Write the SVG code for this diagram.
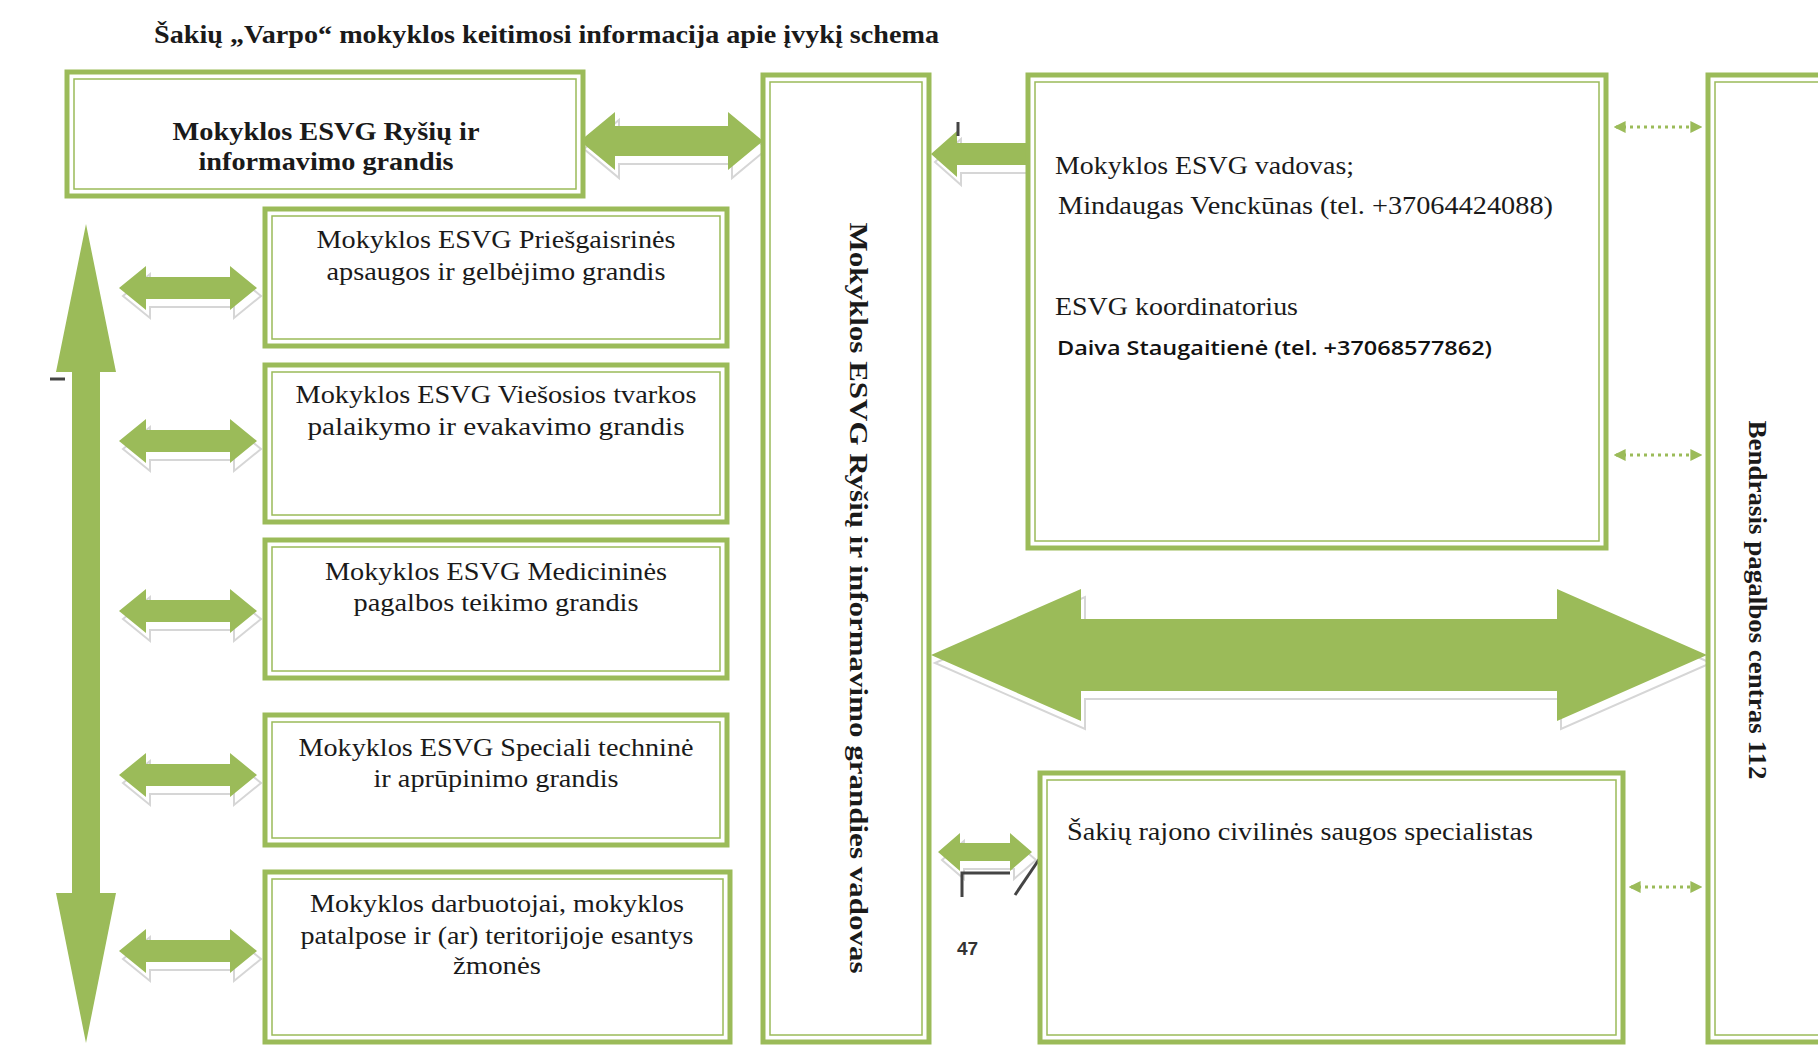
<svg xmlns="http://www.w3.org/2000/svg" width="1818" height="1048" viewBox="0 0 1818 1048">
<style>
.bo{fill:#fff;stroke:#9bbb59;stroke-width:5}
.bi{fill:none;stroke:#9bbb59;stroke-width:1.5}
.ar{fill:#9bbb59}
.sh{fill:none;stroke:#d6d6d6;stroke-width:2}
.t{font-family:"Liberation Serif","Times New Roman",serif;font-size:25px;fill:#1a1a1a}
.b{font-weight:bold}
.dot{stroke:#9bbb59;stroke-width:3;stroke-dasharray:3 4;fill:none}
.mk{stroke:#444;stroke-width:3;fill:none}
</style>
<defs>
<polygon id="sa" points="0,0 27,-22 27,-11 111,-11 111,-22 138,0 111,22 111,11 27,11 27,22"/>
<marker id="dh" viewBox="0 0 10 10" refX="8" refY="5" markerWidth="4" markerHeight="4" orient="auto-start-reverse"><path d="M0,0 L10,5 L0,10 z" fill="#9bbb59"/></marker>
</defs>
<rect width="1818" height="1048" fill="#fff"/>
<text class="t b" x="154" y="43" font-size="24" textLength="785" lengthAdjust="spacingAndGlyphs">Šakių „Varpo“ mokyklos keitimosi informacija apie įvykį schema</text>

<g id="connectors">
<g transform="translate(4,8)" class="sh">
<use href="#sa" x="119" y="288"/><use href="#sa" x="119" y="441"/><use href="#sa" x="119" y="611"/><use href="#sa" x="119" y="775"/><use href="#sa" x="119" y="951"/>
<polygon points="580,141 615,112 615,126 728,126 728,112 763,141 728,170 728,156 615,156 615,170"/>
<polygon points="931,154 957,131 957,143 1028,143 1028,165 957,165 957,177"/>
<polygon points="931,655 1081,589 1081,619 1557,619 1557,589 1707,655 1557,721 1557,691 1081,691 1081,721"/>
<polygon points="938,852 960,833 960,843 1010,843 1010,833 1032,852 1010,871 1010,861 960,861 960,871"/>
</g>
<g class="ar">
<polygon points="86,224 116,372 100,372 100,893 116,893 86,1043 56,893 72,893 72,372 56,372"/>
<use href="#sa" x="119" y="288"/><use href="#sa" x="119" y="441"/><use href="#sa" x="119" y="611"/><use href="#sa" x="119" y="775"/><use href="#sa" x="119" y="951"/>
<polygon points="580,141 615,112 615,126 728,126 728,112 763,141 728,170 728,156 615,156 615,170"/>
<polygon points="931,154 957,131 957,143 1028,143 1028,165 957,165 957,177"/>
<polygon points="931,655 1081,589 1081,619 1557,619 1557,589 1707,655 1557,721 1557,691 1081,691 1081,721"/>
<polygon points="938,852 960,833 960,843 1010,843 1010,833 1032,852 1010,871 1010,861 960,861 960,871"/>
</g>
<line class="dot" x1="1616" y1="127" x2="1700" y2="127" marker-start="url(#dh)" marker-end="url(#dh)"/>
<line class="dot" x1="1616" y1="455" x2="1700" y2="455" marker-start="url(#dh)" marker-end="url(#dh)"/>
<line class="dot" x1="1631" y1="887" x2="1700" y2="887" marker-start="url(#dh)" marker-end="url(#dh)"/>
<line class="mk" x1="50" y1="379" x2="65" y2="379"/>
<line class="mk" x1="958" y1="122" x2="958" y2="136" stroke-width="2"/>
<polyline class="mk" points="962,897 962,873 1010,873"/>
<line class="mk" x1="1015" y1="895" x2="1040" y2="858"/>
</g>

<g id="n-rysiu">
<rect class="bo" x="67" y="72" width="516" height="124"/>
<rect class="bi" x="74" y="79" width="502" height="110"/>
<text class="t b" x="326" y="140" text-anchor="middle" textLength="307" lengthAdjust="spacingAndGlyphs">Mokyklos ESVG Ryšių ir</text>
<text class="t b" x="326" y="170" text-anchor="middle" textLength="255" lengthAdjust="spacingAndGlyphs">informavimo grandis</text>
</g>

<g id="n-priesgaisrines">
<rect class="bo" x="265" y="209" width="462" height="137"/>
<rect class="bi" x="272" y="216" width="448" height="123"/>
<text class="t" x="496" y="248" text-anchor="middle" textLength="359" lengthAdjust="spacingAndGlyphs">Mokyklos ESVG Priešgaisrinės</text>
<text class="t" x="496" y="280" text-anchor="middle" textLength="339" lengthAdjust="spacingAndGlyphs">apsaugos ir gelbėjimo grandis</text>
</g>

<g id="n-viesosios">
<rect class="bo" x="265" y="365" width="462" height="157"/>
<rect class="bi" x="272" y="372" width="448" height="143"/>
<text class="t" x="496" y="403" text-anchor="middle" textLength="401" lengthAdjust="spacingAndGlyphs">Mokyklos ESVG Viešosios tvarkos</text>
<text class="t" x="496" y="435" text-anchor="middle" textLength="377" lengthAdjust="spacingAndGlyphs">palaikymo ir evakavimo grandis</text>
</g>

<g id="n-medicinines">
<rect class="bo" x="265" y="540" width="462" height="138"/>
<rect class="bi" x="272" y="547" width="448" height="124"/>
<text class="t" x="496" y="580" text-anchor="middle" textLength="342" lengthAdjust="spacingAndGlyphs">Mokyklos ESVG Medicininės</text>
<text class="t" x="496" y="611" text-anchor="middle" textLength="285" lengthAdjust="spacingAndGlyphs">pagalbos teikimo grandis</text>
</g>

<g id="n-speciali">
<rect class="bo" x="265" y="715" width="462" height="130"/>
<rect class="bi" x="272" y="722" width="448" height="116"/>
<text class="t" x="496" y="756" text-anchor="middle" textLength="395" lengthAdjust="spacingAndGlyphs">Mokyklos ESVG Speciali techninė</text>
<text class="t" x="496" y="787" text-anchor="middle" textLength="245" lengthAdjust="spacingAndGlyphs">ir aprūpinimo grandis</text>
</g>

<g id="n-darbuotojai">
<rect class="bo" x="265" y="872" width="465" height="170"/>
<rect class="bi" x="272" y="879" width="451" height="156"/>
<text class="t" x="497" y="912" text-anchor="middle" textLength="374" lengthAdjust="spacingAndGlyphs">Mokyklos darbuotojai, mokyklos</text>
<text class="t" x="497" y="944" text-anchor="middle" textLength="393" lengthAdjust="spacingAndGlyphs">patalpose ir (ar) teritorijoje esantys</text>
<text class="t" x="497" y="974" text-anchor="middle" textLength="88" lengthAdjust="spacingAndGlyphs">žmonės</text>
</g>

<g id="n-vadovas-grandies">
<rect class="bo" x="763" y="75" width="166" height="967"/>
<rect class="bi" x="770" y="82" width="152" height="953"/>
<text class="t b" transform="translate(850,598) rotate(90)" text-anchor="middle" font-size="27" textLength="751" lengthAdjust="spacingAndGlyphs">Mokyklos ESVG Ryšių ir informavimo grandies vadovas</text>
</g>

<g id="n-esvg-vadovas">
<rect class="bo" x="1028" y="75" width="578" height="473"/>
<rect class="bi" x="1035" y="82" width="564" height="459"/>
<text class="t" x="1055" y="174" textLength="299" lengthAdjust="spacingAndGlyphs">Mokyklos ESVG vadovas;</text>
<text class="t" x="1058" y="214" textLength="495" lengthAdjust="spacingAndGlyphs">Mindaugas Venckūnas (tel. +37064424088)</text>
<text class="t" x="1055" y="315" textLength="243" lengthAdjust="spacingAndGlyphs">ESVG koordinatorius</text>
<text x="1057" y="355" font-family="'Open Sans','Liberation Sans',sans-serif" font-weight="600" font-size="20" fill="#111" textLength="435" lengthAdjust="spacingAndGlyphs">Daiva Staugaitienė (tel. +37068577862)</text>
</g>

<g id="n-civiline">
<rect class="bo" x="1040" y="773" width="583" height="269"/>
<rect class="bi" x="1047" y="780" width="569" height="255"/>
<text class="t" x="1067" y="840" textLength="466" lengthAdjust="spacingAndGlyphs">Šakių rajono civilinės saugos specialistas</text>
</g>

<g id="n-112">
<rect class="bo" x="1708" y="75" width="130" height="967"/>
<rect class="bi" x="1715" y="82" width="116" height="953"/>
<text class="t b" transform="translate(1749,600) rotate(90)" text-anchor="middle" font-size="26" textLength="359" lengthAdjust="spacingAndGlyphs">Bendrasis pagalbos centras 112</text>
</g>

<text x="957" y="955" font-family="'Liberation Sans',Arial,sans-serif" font-weight="bold" font-size="19" fill="#333">47</text>
</svg>
